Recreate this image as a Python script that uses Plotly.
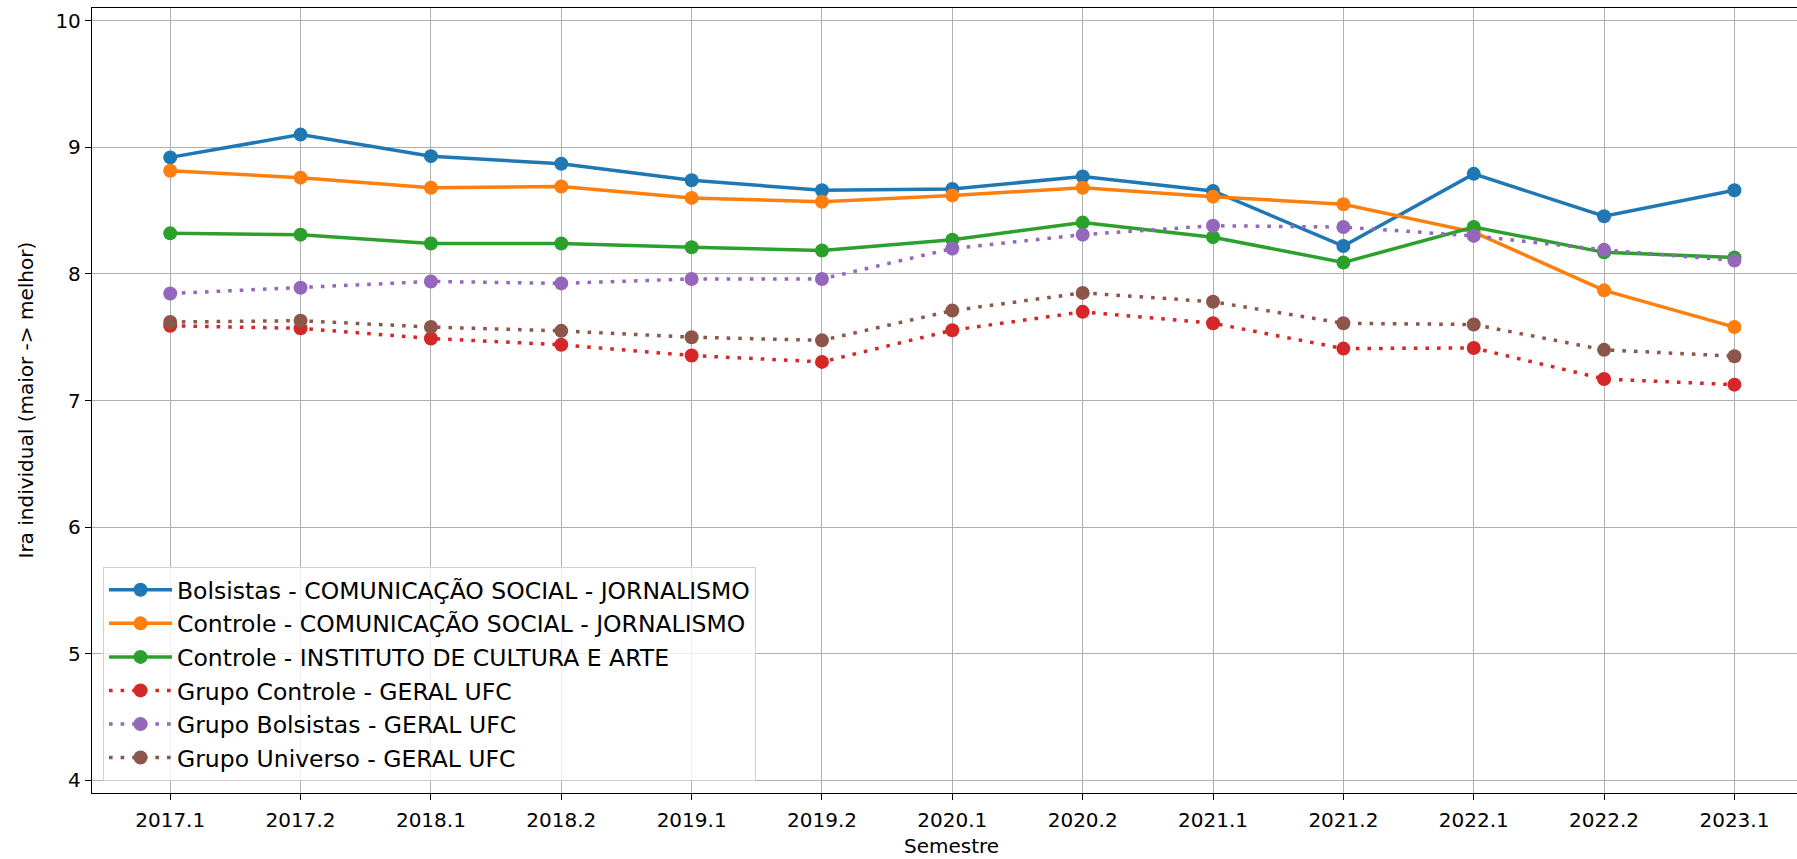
import plotly.graph_objects as go

semestres = ["2017.1", "2017.2", "2018.1", "2018.2", "2019.1", "2019.2", "2020.1",
             "2020.2", "2021.1", "2021.2", "2022.1", "2022.2", "2023.1"]

bolsistas_com = [8.92, 9.10, 8.93, 8.87, 8.74, 8.66, 8.67, 8.77, 8.655, 8.22, 8.79, 8.455, 8.66]
controle_com = [8.815, 8.76, 8.68, 8.69, 8.60, 8.57, 8.62, 8.68, 8.61, 8.55, 8.33, 7.87, 7.58]
controle_ica = [8.32, 8.31, 8.24, 8.24, 8.21, 8.185, 8.27, 8.405, 8.29, 8.09, 8.37, 8.17, 8.13]
grupo_controle = [7.59, 7.57, 7.49, 7.44, 7.355, 7.305, 7.555, 7.70, 7.61, 7.41, 7.415, 7.17, 7.125]
grupo_bolsistas = [7.845, 7.89, 7.94, 7.925, 7.96, 7.96, 8.20, 8.31, 8.38, 8.37, 8.30, 8.19, 8.105]
grupo_universo = [7.62, 7.63, 7.58, 7.55, 7.50, 7.475, 7.71, 7.85, 7.78, 7.61, 7.60, 7.40, 7.35]

series = [
    ("Bolsistas - COMUNICAÇÃO SOCIAL - JORNALISMO", bolsistas_com, "#1f77b4", "solid"),
    ("Controle - COMUNICAÇÃO SOCIAL - JORNALISMO", controle_com, "#ff7f0e", "solid"),
    ("Controle - INSTITUTO DE CULTURA E ARTE", controle_ica, "#2ca02c", "solid"),
    ("Grupo Controle - GERAL UFC", grupo_controle, "#d62728", "3.6px,8px"),
    ("Grupo Bolsistas - GERAL UFC", grupo_bolsistas, "#9467bd", "3.6px,8px"),
    ("Grupo Universo - GERAL UFC", grupo_universo, "#8c564b", "3.6px,8px"),
]

FONT = "DejaVu Sans"

fig = go.Figure()
for i, (name, vals, color, dash) in enumerate(series):
    fig.add_trace(go.Scatter(
        x=semestres, y=vals, name=name, mode="lines+markers",
        line=dict(color=color, width=3.5, dash=dash),
        marker=dict(color=color, size=14),
        legendgroup=f"g{i}",
    ))

W, H = 1797, 859
L, R, T, B = 92, 0, 8, 66
pw = W - L - R
ph = H - T - B

fig.update_layout(
    width=W, height=H,
    margin=dict(l=L, r=R, t=T, b=B, pad=0, autoexpand=False),
    paper_bgcolor="white", plot_bgcolor="white",
    font=dict(family=FONT, size=20, color="black"),
    showlegend=True,
    legend=dict(
        x=(103 - L) / pw, y=(T + ph - 781) / ph,
        xanchor="left", yanchor="bottom",
        bgcolor="rgba(255,255,255,0.8)", bordercolor="#d0d0d0", borderwidth=1,
        font=dict(family=FONT, size=23.5, color="black"),
        tracegroupgap=8, traceorder="normal", itemwidth=63,
    ),
    xaxis=dict(
        type="category", range=[-0.6, 12.48], automargin=False,
        showgrid=True, gridcolor="#b0b0b0", gridwidth=1.1,
        showline=True, linecolor="black", linewidth=1.3, mirror=True,
        ticks="outside", ticklen=6, tickwidth=1.2, tickcolor="black",
        tickfont=dict(family=FONT, size=20, color="black"),
        ticklabelstandoff=3,
        zeroline=False,
    ),
    yaxis=dict(
        range=[3.9, 10.1], tickmode="array", tickvals=[4, 5, 6, 7, 8, 9, 10],
        automargin=False,
        showgrid=True, gridcolor="#b0b0b0", gridwidth=1.1,
        showline=True, linecolor="black", linewidth=1.3, mirror=False,
        ticks="outside", ticklen=6, tickwidth=1.2, tickcolor="black",
        tickfont=dict(family=FONT, size=20, color="black"),
        zeroline=False,
    ),
    annotations=[
        dict(text="Ira individual (maior -> melhor)", xref="paper", yref="paper",
             x=(25 - L) / pw, y=0.5, xanchor="center", yanchor="middle",
             textangle=-90, showarrow=False, font=dict(family=FONT, size=20, color="black")),
        dict(text="Semestre", xref="paper", yref="paper",
             x=(951 - L) / pw, y=-(846 - (T + ph)) / ph, xanchor="center", yanchor="middle",
             showarrow=False, font=dict(family=FONT, size=20, color="black")),
    ],
)

fig.write_html(
    "out.html",
    config={"displayModeBar": False},
    post_script="document.body.style.margin='0';document.body.style.padding='0';document.body.style.overflow='hidden';",
)
